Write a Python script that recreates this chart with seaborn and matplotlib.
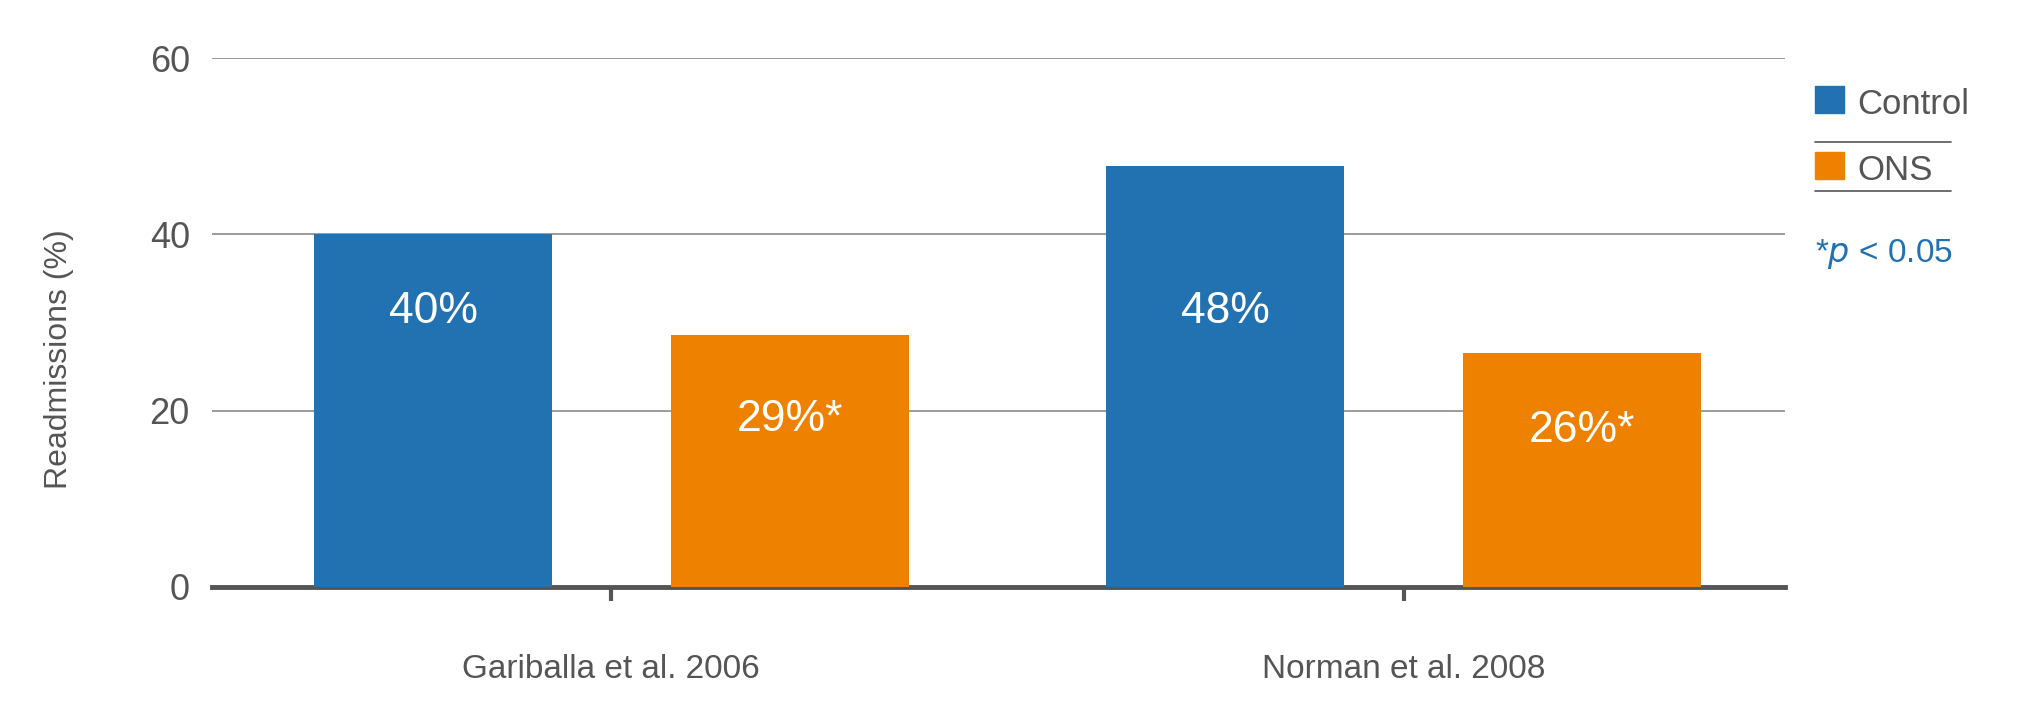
import pandas as pd
import matplotlib.pyplot as plt
import seaborn as sns
from matplotlib.patches import Rectangle
from matplotlib.lines import Line2D

# dados
estudos = ['Gariballa et al. 2006', 'Norman et al. 2008']
grupos = ['Control', 'ONS']
controle = [40.0, 47.8]
ons = [28.6, 26.6]
rotulos = ['40%', '48%', '29%*', '26%*']

azul = '#2271b1'
laranja = '#ee8100'
cinza = '#555555'

df = pd.DataFrame({
    'estudo': estudos * 2,
    'grupo': [grupos[0]] * 2 + [grupos[1]] * 2,
    'valor': controle + ons,
})

sns.set_style('white')
plt.rcParams['font.family'] = ['Liberation Sans', 'DejaVu Sans']

fig = plt.figure(figsize=(20.19, 7.18), dpi=100)
ax = fig.add_axes([0.105, 0.1825, 0.779, 0.7365])

sns.barplot(data=df, x='estudo', y='valor', hue='grupo',
            palette=[azul, laranja], width=0.9, gap=0.333,
            saturation=1, legend=False, linewidth=0, ax=ax, zorder=3)

ax.set_ylim(0, 60)
ax.set_xlim(-0.504, 1.481)
ax.set_yticks([0, 20, 40, 60])
ax.yaxis.grid(True, color='#8a8a8a', linewidth=1.2, zorder=0)
ax.set_axisbelow(True)
for s in ['top', 'right', 'left']:
    ax.spines[s].set_visible(False)
ax.spines['bottom'].set_color(cinza)
ax.spines['bottom'].set_linewidth(3.5)
ax.tick_params(axis='y', left=False, length=0, pad=16, labelsize=26, labelcolor=cinza)
ax.tick_params(axis='x', bottom=True, length=10, width=3, color=cinza, direction='out',
               pad=38, labelsize=24, labelcolor=cinza)
ax.set_xlabel('')
ax.set_ylabel('Readmissions (%)', fontsize=23, color=cinza)
ax.yaxis.set_label_coords(-0.088, 0.43)

# rotulos dentro das barras
label_y = [31.3, 31.3, 19.0, 17.7]
for patch, txt, yy in zip(ax.patches, rotulos, label_y):
    cx = patch.get_x() + patch.get_width() / 2
    ax.text(cx, yy, txt, ha='center', va='center', color='white',
            fontsize=32, zorder=4)

# legenda manual
W, H = 2019, 718
def fx(px):
    return px / W
def fy(py):
    return 1 - py / H

for cor, nome, top, linha in [(azul, grupos[0], 86, 142), (laranja, grupos[1], 152, 191)]:
    fig.patches.append(Rectangle((fx(1815), fy(top + 27)), fx(29), 27 / H,
                                 transform=fig.transFigure, color=cor))
    fig.text(fx(1857), fy(top + 18), nome, ha='left', va='center',
             fontsize=25, color=cinza)
    fig.lines.append(Line2D([fx(1815), fx(1951)], [fy(linha), fy(linha)],
                            transform=fig.transFigure, color=cinza, linewidth=1.2))

fig.text(fx(1815), fy(254), r'*$\mathit{p}$ < 0.05', ha='left', va='center',
         fontsize=24, color=azul)

fig.savefig('out.png', dpi=100)
